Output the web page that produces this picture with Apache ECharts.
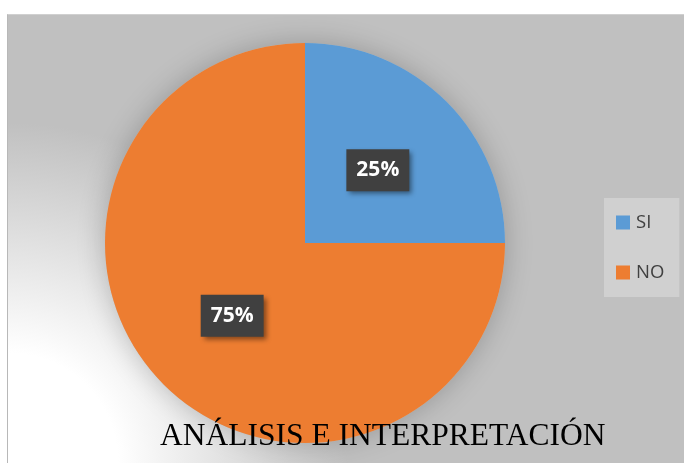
<!DOCTYPE html>
<html>
<head>
<meta charset="utf-8">
<script src="https://cdn.jsdelivr.net/npm/echarts@6/dist/echarts.min.js"></script>
<style>
html,body{margin:0;padding:0;width:684px;height:463px;background:#fff;overflow:hidden;}
#bg{position:absolute;left:7px;top:14px;width:677px;height:449px;
background:radial-gradient(circle at 0% 100%, #ffffff 0px, #ffffff 110px, #c0c0c0 340px);
border-left:1px solid #b8b8b8;border-top:1px solid #d0d0d0;box-sizing:border-box;}
#chart{position:absolute;left:0;top:0;width:684px;height:463px;}
</style>
</head>
<body>
<div id="bg"></div>
<div id="chart"></div>
<script>
const categories = ['SI', 'NO'];
const values = [25, 75];
const colors = ['#5b9bd5', '#ed7d31'];
const titleText = 'ANÁLISIS E INTERPRETACIÓN';

const chart = echarts.init(document.getElementById('chart'), null, {renderer: 'canvas'});
chart.setOption({
  animation: false,
  backgroundColor: 'transparent',
  color: colors,
  title: {
    text: titleText,
    left: 160,
    top: 421,
    padding: 0,
    z: 10,
    textStyle: {
      fontFamily: 'Liberation Serif',
      fontSize: 31.5,
      fontWeight: 'normal',
      color: '#000'
    }
  },
  legend: {
    orient: 'vertical',
    left: 604,
    top: 198,
    padding: [15, 15, 15, 12],
    backgroundColor: '#d0d0d0',
    itemWidth: 14,
    itemHeight: 14,
    itemGap: 31,
    icon: 'rect',
    data: categories,
    textStyle: {fontFamily: 'Open Sans', fontSize: 18.5, color: '#404040', padding: [0,0,0,1]}
  },
  series: [{
    name: 'shadow',
    type: 'pie',
    center: [305, 243],
    radius: 200,
    silent: true,
    z: 1,
    itemStyle: {color: '#c0c0c0', shadowBlur: 28, shadowColor: 'rgba(0,0,0,0.22)'},
    label: {show: false},
    labelLine: {show: false},
    emphasis: {disabled: true},
    tooltip: {show: false},
    data: [{name: '', value: 1}]
  }, {
    type: 'pie',
    center: [305, 243],
    radius: 200,
    startAngle: 90,
    clockwise: true,
    z: 2,
    label: {
      show: true,
      position: 'inside',
      formatter: '{d}%',
      color: '#fff',
      fontFamily: 'Open Sans',
      fontWeight: 'bold',
      fontSize: 21,
      lineHeight: 22,
      backgroundColor: '#404040',
      padding: [10, 10, 10, 10],
      shadowBlur: 5,
      shadowOffsetX: 3,
      shadowOffsetY: 3,
      shadowColor: 'rgba(0,0,0,0.45)'
    },
    labelLine: {show: false},
    emphasis: {disabled: true},
    data: categories.map((c, i) => ({name: c, value: values[i]}))
  }]
});
</script>
</body>
</html>
